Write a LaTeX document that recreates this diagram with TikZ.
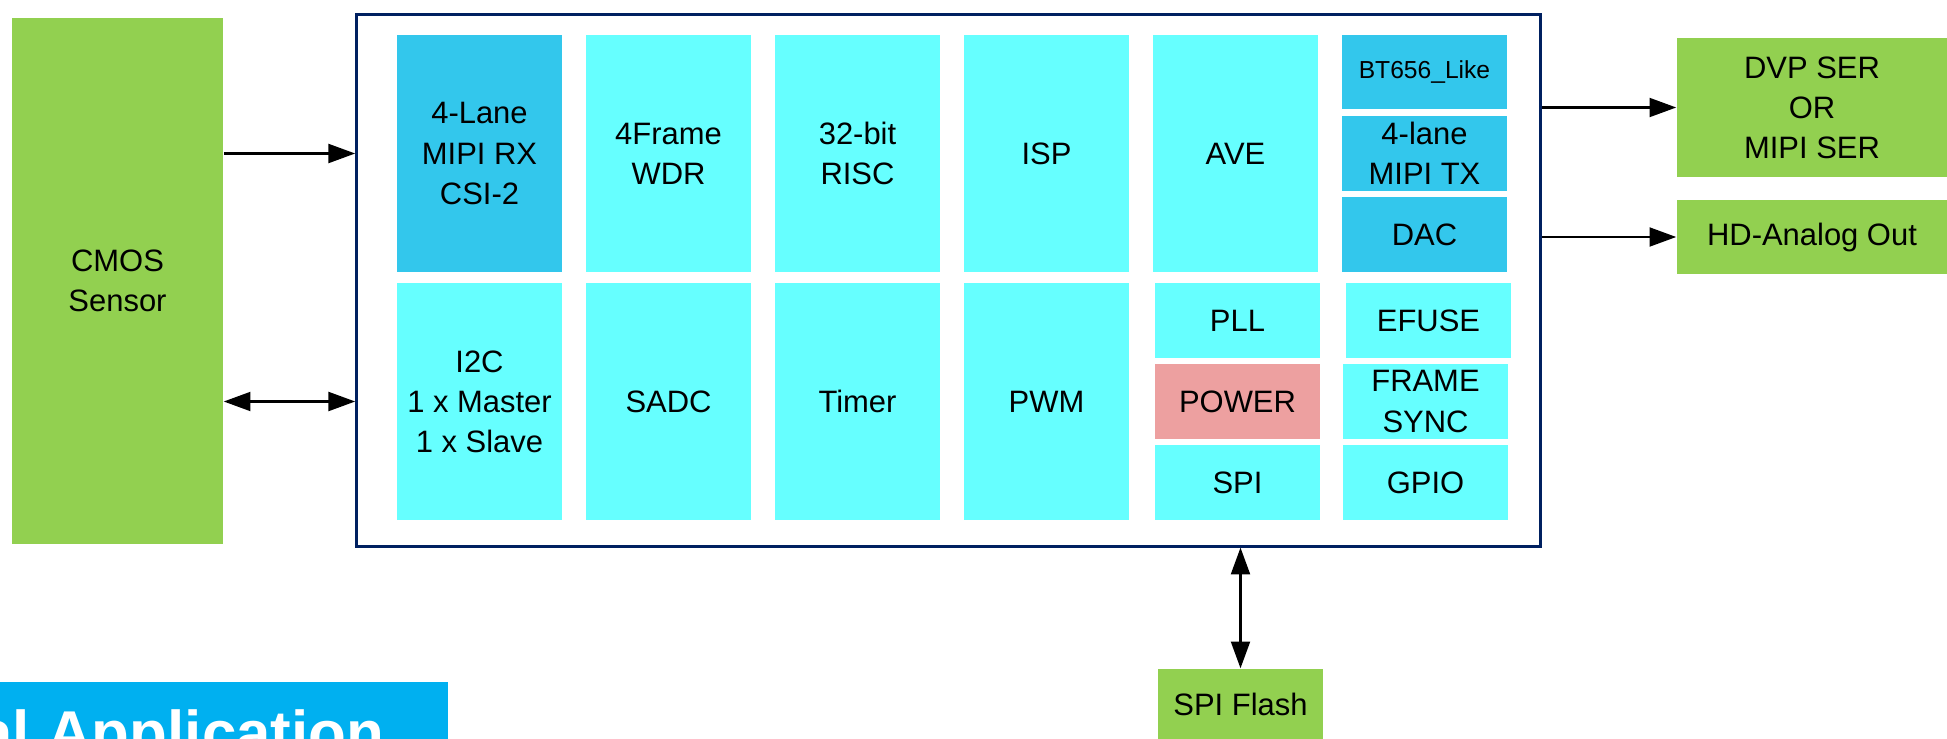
\documentclass[tikz,border=0pt]{standalone}
\usepackage{fontspec}
\setmainfont{Liberation Sans}
\usepackage{xcolor}
\usepackage{tikz}
\usetikzlibrary{positioning,arrows.meta,calc}
\definecolor{ink}{HTML}{000000}
\definecolor{sLime}{HTML}{92D050}
\definecolor{sAqua}{HTML}{66FFFF}
\definecolor{sSky}{HTML}{33C7EC}
\definecolor{sRose}{HTML}{EDA0A0}
\definecolor{sNavy}{HTML}{002060}
\definecolor{sBanner}{HTML}{00B0F0}
\colorlet{ip}{sAqua}
\colorlet{port}{sSky}
\tikzset{
  blk/.style={inner sep=0pt, align=center, text=ink, font=\fontsize{8.8pt}{11.4pt}\selectfont},
  chip/.style={draw=sNavy, line width=0.85pt, inner sep=0pt},
}
\begin{document}
\begin{tikzpicture}[x=0.01cm, y=-0.01cm,
  cell/.style={blk, fill=ip, minimum width=1.65cm, minimum height=2.37cm},
  slot/.style={blk, fill=ip, minimum width=1.65cm, minimum height=0.75cm},
  ext/.style={blk, fill=sLime},
  link/.style={line width=0.6pt, draw=ink, -{Triangle[length=7.6pt, width=5.4pt]}},
  duplex/.style={line width=0.6pt, draw=ink, {Triangle[length=7.6pt, width=5.4pt]}-{Triangle[length=7.6pt, width=5.4pt]}}]
\useasboundingbox (0,0) rectangle (1947,739);
\node[ext, minimum width=2.11cm, minimum height=5.26cm] (sensor) at (117.5,281) {CMOS\\Sensor};
\node[chip, minimum width=11.83cm, minimum height=5.31cm] (soc) at (948.5,280.5) {};
\node[cell, fill=port] (rx) at (479.5,153.5) {4-Lane\\MIPI RX\\CSI-2};
\node[cell] (wdr) at (668.5,153.5) {4Frame\\WDR};
\node[cell] (risc) at (857.5,153.5) {32-bit\\RISC};
\node[cell] (isp) at (1046.5,153.5) {ISP};
\node[cell] (ave) at (1235.5,153.5) {AVE};
\node[slot, fill=port, minimum height=0.74cm, font=\fontsize{7pt}{9pt}\selectfont] (bt) at (1424.5,72) {BT656\_Like};
\node[slot, fill=port] (mtx) at (1424.5,153.5) {4-lane\\MIPI TX};
\node[slot, fill=port] (dac) at (1424.5,234.5) {DAC};
\node[cell] (i2c) at (479.5,401.5) {I2C\\1 x Master\\1 x Slave};
\node[cell] (sadc) at (668.5,401.5) {SADC};
\node[cell] (timer) at (857.5,401.5) {Timer};
\node[cell] (pwm) at (1046.5,401.5) {PWM};
\node[slot] (pll) at (1237.5,320.5) {PLL};
\node[slot, fill=sRose] (power) at (1237.5,401.5) {POWER};
\node[slot] (spi) at (1237.5,482.5) {SPI};
\node[slot] (efuse) at (1428.5,320.5) {EFUSE};
\node[slot] (fsync) at (1425.5,401.5) {FRAME\\SYNC};
\node[slot] (gpio) at (1425.5,482.5) {GPIO};
\node[ext, minimum width=2.7cm, minimum height=1.39cm] (dvp) at (1812,107.5) {DVP SER\\OR\\MIPI SER};
\node[ext, minimum width=2.7cm, minimum height=0.74cm] (hd) at (1812,237) {HD-Analog Out};
\node[ext, minimum width=1.65cm, minimum height=0.7cm] (flash) at (1240.5,704) {SPI Flash};
\draw[link] (sensor.east |- rx.center) -- (soc.west |- rx.center);
\draw[duplex] (sensor.east |- i2c.center) -- (soc.west |- i2c.center);
\draw[link] (soc.east |- dvp.west) -- (dvp.west);
\draw[link] (soc.east |- hd.west) -- (hd.west);
\draw[duplex] (flash.north) -- (flash.north |- soc.south);
\begin{scope}
\clip (0,682) rectangle (448,739);
\fill[sBanner] (0,682) rectangle (448,739);
\node[anchor=base east, inner sep=0pt, text=white, font=\bfseries\fontsize{17.6pt}{20pt}\selectfont] (title) at (385,754) {Typical Application};
\end{scope}
\end{tikzpicture}
\end{document}
